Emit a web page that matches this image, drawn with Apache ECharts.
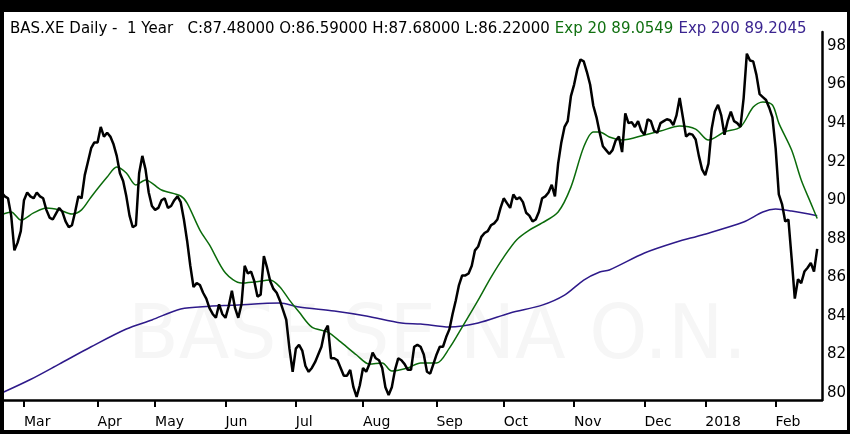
<!DOCTYPE html>
<html>
<head>
<meta charset="utf-8">
<title>BAS.XE Daily</title>
<script src="https://cdn.jsdelivr.net/npm/echarts@6/dist/echarts.min.js"></script>
<style>
  html, body { margin: 0; padding: 0; background: #000; }
  #chart { width: 850px; height: 434px; }
</style>
</head>
<body>
<div id="chart"></div>
<script>
// trading-day index of the first session of each month
const monthStarts = [7, 30, 48, 70, 92, 113, 136, 157, 179, 201, 220, 242];
const monthLabels = ['Mar', 'Apr', 'May', 'Jun', 'Jul', 'Aug', 'Sep', 'Oct', 'Nov', 'Dec', '2018', 'Feb'];
const priceTicks = [80, 82, 84, 86, 88, 90, 92, 94, 96, 98];

// daily close, Feb 2017 .. Feb 2018
const closes = [
  90.4, 90.2, 90.1, 89.2, 87.4, 87.8, 88.4, 90.0, 90.4, 90.2,
  90.1, 90.4, 90.2, 90.1, 89.5, 89.1, 89.0, 89.3, 89.6, 89.4,
  88.9, 88.6, 88.7, 89.4, 90.2, 90.1, 91.3, 92.0, 92.7, 93.0,
  93.0, 93.8, 93.3, 93.5, 93.3, 92.9, 92.3, 91.4, 91.0, 90.2,
  89.2, 88.6, 88.7, 91.4, 92.3, 91.6, 90.4, 89.7, 89.5, 89.6,
  90.0, 90.1, 89.6, 89.7, 90.0, 90.2, 89.9, 89.0, 87.9, 86.6,
  85.5, 85.7, 85.6, 85.2, 84.9, 84.4, 84.1, 83.9, 84.6, 84.1,
  83.9, 84.5, 85.3, 84.4, 83.9, 84.6, 86.6, 86.2, 86.3, 85.8,
  85.0, 85.1, 87.1, 86.5, 85.8, 85.4, 85.2, 84.8, 84.3, 83.8,
  82.3, 81.1, 82.3, 82.5, 82.2, 81.4, 81.1, 81.3, 81.6, 82.0,
  82.4, 83.2, 83.5, 81.8, 81.8, 81.7, 81.3, 80.9, 80.9, 81.2,
  80.3, 79.8, 80.4, 81.3, 81.1, 81.5, 82.1, 81.8, 81.7, 81.3,
  80.3, 79.9, 80.3, 81.2, 81.8, 81.7, 81.5, 81.2, 81.2, 82.4,
  82.5, 82.4, 82.0, 81.1, 81.0, 81.5, 82.0, 82.4, 82.4, 82.9,
  83.3, 84.1, 84.8, 85.6, 86.1, 86.1, 86.2, 86.6, 87.4, 87.6,
  88.1, 88.3, 88.4, 88.7, 88.8, 89.0, 89.6, 90.1, 89.85, 89.6,
  90.3, 90.05, 90.15, 89.9, 89.35, 89.2, 88.9, 89.0, 89.4, 90.1,
  90.2, 90.4, 90.8, 90.2, 91.9, 93.0, 93.8, 94.1, 95.4, 96.0,
  96.8, 97.3, 97.2, 96.65, 96.0, 94.9, 94.3, 93.5, 92.8, 92.6,
  92.4, 92.6, 93.1, 93.3, 92.5, 94.5, 94.0, 94.05, 93.8, 94.1,
  93.6, 93.4, 94.2, 94.1, 93.6, 93.5, 94.0, 94.1, 94.2, 94.15,
  93.9, 94.4, 95.3, 94.3, 93.3, 93.45, 93.4, 93.15, 92.3, 91.6,
  91.3, 91.9, 93.7, 94.6, 94.95, 94.4, 93.4, 94.1, 94.6, 94.1,
  94.0, 93.8, 95.3, 97.6, 97.25, 97.2, 96.5, 95.5, 95.35, 95.2,
  94.8, 94.3, 92.7, 90.3, 89.8, 88.9, 89.0, 87.0, 84.9, 85.9,
  85.7, 86.3, 86.5, 86.75, 86.3, 87.48
];

// Exp 20: [day index, value]
const ema20 = [
  [0, 89.25], [3, 89.39], [6, 88.97], [10, 89.34], [14, 89.6], [18, 89.5],
  [22, 89.28], [25, 89.5], [28, 90.17], [33, 91.2], [36, 91.72], [39, 91.41],
  [42, 90.79], [45, 91.05], [50, 90.53], [56, 90.22], [58, 89.85], [62, 88.45],
  [65, 87.68], [70, 86.22], [75, 85.7], [79, 85.76], [84, 85.86], [87, 85.5],
  [90, 84.82], [93, 84.2], [97, 83.42], [102, 83.16], [106, 82.65], [111, 81.97],
  [115, 81.5], [119, 81.56], [122, 81.14], [127, 81.3], [131, 81.56], [136, 81.56],
  [140, 82.33], [144, 83.42], [149, 84.82], [153, 86.0], [157, 87.05], [161, 87.94],
  [165, 88.45], [169, 88.82], [174, 89.39], [178, 90.68], [182, 92.76], [185, 93.54],
  [187, 93.54], [190, 93.28], [194, 93.12], [201, 93.38], [206, 93.59], [212, 93.85],
  [217, 93.69], [221, 93.12], [226, 93.54], [231, 93.8], [235, 94.83], [238, 95.1],
  [241, 94.94], [243, 94.0], [247, 92.6], [250, 91.05], [253, 89.85], [255, 89.05]
];

// Exp 200: [day index, value]
const ema200 = [
  [0, 80.0], [9, 80.7], [18, 81.5], [28, 82.4], [39, 83.32], [47, 83.79],
  [56, 84.36], [65, 84.5], [72, 84.55], [87, 84.67], [93, 84.46], [104, 84.25],
  [114, 83.99], [125, 83.63], [131, 83.58], [140, 83.42], [149, 83.63], [159, 84.15],
  [169, 84.56], [176, 85.08], [182, 85.86], [187, 86.28], [190, 86.38], [201, 87.26],
  [211, 87.83], [219, 88.2], [232, 88.87], [238, 89.39], [242, 89.54], [247, 89.44],
  [255, 89.2]
];

const FONT = 'DejaVu Sans';
const chart = echarts.init(document.getElementById('chart'));

const option = {
  backgroundColor: '#fff',
  animation: false,
  title: {
    left: 5,
    top: 15,
    text: '{k|BAS.XE Daily -  1 Year   C:87.48000 O:86.59000 H:87.68000 L:86.22000} {g|Exp 20 89.0549} {p|Exp 200 89.2045}',
    textStyle: {
      fontWeight: 'normal',
      rich: {
        k: { color: '#000', fontFamily: FONT, fontSize: 15, fontWeight: 'normal' },
        g: { color: '#117011', fontFamily: FONT, fontSize: 15, fontWeight: 'normal' },
        p: { color: '#3b2590', fontFamily: FONT, fontSize: 15, fontWeight: 'normal' }
      }
    }
  },
  grid: { left: 0, right: 28, top: 32, bottom: 34 },
  xAxis: {
    type: 'value',
    min: -0.5,
    max: 256.5,
    splitLine: { show: false },
    axisLine: { show: true, onZero: false, lineStyle: { color: '#000', width: 2.5 } },
    axisTick: { show: true, length: 7, customValues: monthStarts, lineStyle: { color: '#000', width: 2 } },
    axisLabel: {
      customValues: monthStarts,
      align: 'left',
      margin: 15,
      color: '#000',
      fontFamily: FONT,
      fontSize: 14,
      formatter: v => monthLabels[monthStarts.indexOf(v)] || ''
    }
  },
  yAxis: {
    type: 'value',
    position: 'right',
    min: 79.637,
    max: 98.726,
    splitLine: { show: false },
    axisLine: { show: true, onZero: false, lineStyle: { color: '#000', width: 2.5 } },
    axisTick: { show: false },
    axisLabel: {
      customValues: priceTicks,
      margin: 5,
      color: '#000',
      fontFamily: FONT,
      fontSize: 15
    }
  },
  graphic: [
    {
      type: 'text',
      z: -10,
      left: 128,
      top: 302,
      style: {
        text: 'BASF SE NA O.N.',
        fill: '#f6f6f6',
        fontFamily: FONT,
        fontSize: 74
      }
    },
    { type: 'rect', z: 100, shape: { x: 0, y: 0, width: 850, height: 12 }, style: { fill: '#000' } },
    { type: 'rect', z: 100, shape: { x: 0, y: 0, width: 4, height: 434 }, style: { fill: '#000' } },
    { type: 'rect', z: 100, shape: { x: 847, y: 0, width: 3, height: 434 }, style: { fill: '#000' } },
    { type: 'rect', z: 100, shape: { x: 0, y: 430, width: 850, height: 4 }, style: { fill: '#000' } }
  ],
  series: [
    {
      name: 'Exp 200',
      type: 'line',
      data: ema200,
      symbol: 'none',
      smooth: 0.3,
      lineStyle: { color: '#2e1a8a', width: 1.5 },
      z: 3
    },
    {
      name: 'Exp 20',
      type: 'line',
      data: ema20,
      symbol: 'none',
      smooth: 0.3,
      lineStyle: { color: '#0b6b0b', width: 1.5 },
      z: 3
    },
    {
      name: 'Close',
      type: 'line',
      data: closes.map((v, i) => [i, v]),
      symbol: 'none',
      lineStyle: { color: '#000', width: 2.5 },
      z: 4
    }
  ]
};

chart.setOption(option);
</script>
</body>
</html>
